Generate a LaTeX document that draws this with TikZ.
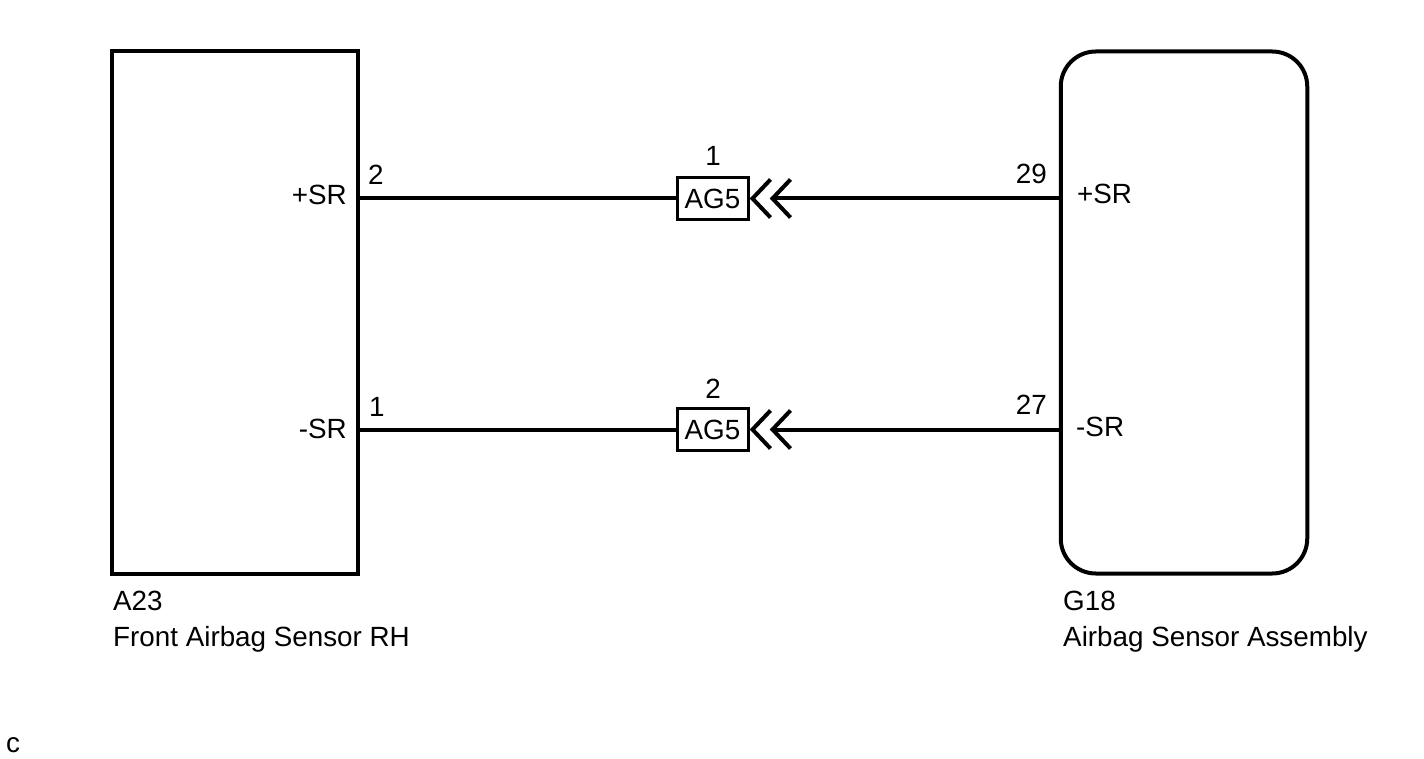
\documentclass[tikz,border=0pt]{standalone}
\usepackage{fontspec}
\setmainfont{Liberation Sans}
\usetikzlibrary{calc}
\begin{document}
\begin{tikzpicture}[x=1pt,y=-1pt,
  font=\fontsize{27.8}{33}\selectfont,
  ecu/.style={draw,line width=4pt,inner sep=0pt,minimum width=246.5pt,minimum height=522pt},
  conn/.style={draw,line width=3pt,inner sep=0pt,minimum width=71pt,minimum height=42pt},
  wire/.style={line width=4pt},
  chev/.style={line width=4pt},
  lbl/.style={inner sep=0pt}]
\useasboundingbox (0,0) rectangle (1424,759);
% components
\node[ecu] (a23) at (234.75,312.5) {};
\node[ecu,rounded corners=35pt] (g18) at (1184,312.5) {};
% connectors
\node[conn] (ag1) at (712.5,198.5) {AG5};
\node[conn] (ag2) at (712.5,429.5) {AG5};
% chevron tips
\coordinate (t1) at ($(ag1.east)+(23,0)$);
\coordinate (t2) at ($(ag2.east)+(23,0)$);
% wires
\draw[wire] (a23.east |- ag1.west) -- (ag1.west);
\draw[wire] (t1) -- (t1 -| g18.west);
\draw[wire] (a23.east |- ag2.west) -- (ag2.west);
\draw[wire] (t2) -- (t2 -| g18.west);
% chevrons
\foreach \c in {ag1,ag2}{
  \draw[chev] ($(\c.east)+(21,-19)$) -- ($(\c.east)+(3,0)$) -- ($(\c.east)+(21,19)$);
  \draw[chev] ($(\c.east)+(41,-19)$) -- ($(\c.east)+(23,0)$) -- ($(\c.east)+(41,19)$);
}
% pin labels
\node[lbl,anchor=base east] (l1) at (347,205) {+SR};
\node[lbl,anchor=base west] (l2) at (368,185) {2};
\node[lbl,anchor=base] (l3) at (713,166) {1};
\node[lbl,anchor=base east] (l4) at (1047,184) {29};
\node[lbl,anchor=base west] (l5) at (1077,204) {+SR};
\node[lbl,anchor=base east] (l6) at (347,438) {-SR};
\node[lbl,anchor=base west] (l7) at (369,416) {1};
\node[lbl,anchor=base] (l8) at (713,398) {2};
\node[lbl,anchor=base east] (l9) at (1047,414) {27};
\node[lbl,anchor=base west] (l10) at (1076,436) {-SR};
% component names
\node[lbl,anchor=base west] (n1) at (113,610) {A23};
\node[lbl,anchor=base west] (n2) at (113,646) {Front Airbag Sensor RH};
\node[lbl,anchor=base west] (n3) at (1063,610) {G18};
\node[lbl,anchor=base west] (n4) at (1063,646) {Airbag Sensor Assembly};
\node[lbl,anchor=base west] (n5) at (6,752) {c};
\end{tikzpicture}
\end{document}
